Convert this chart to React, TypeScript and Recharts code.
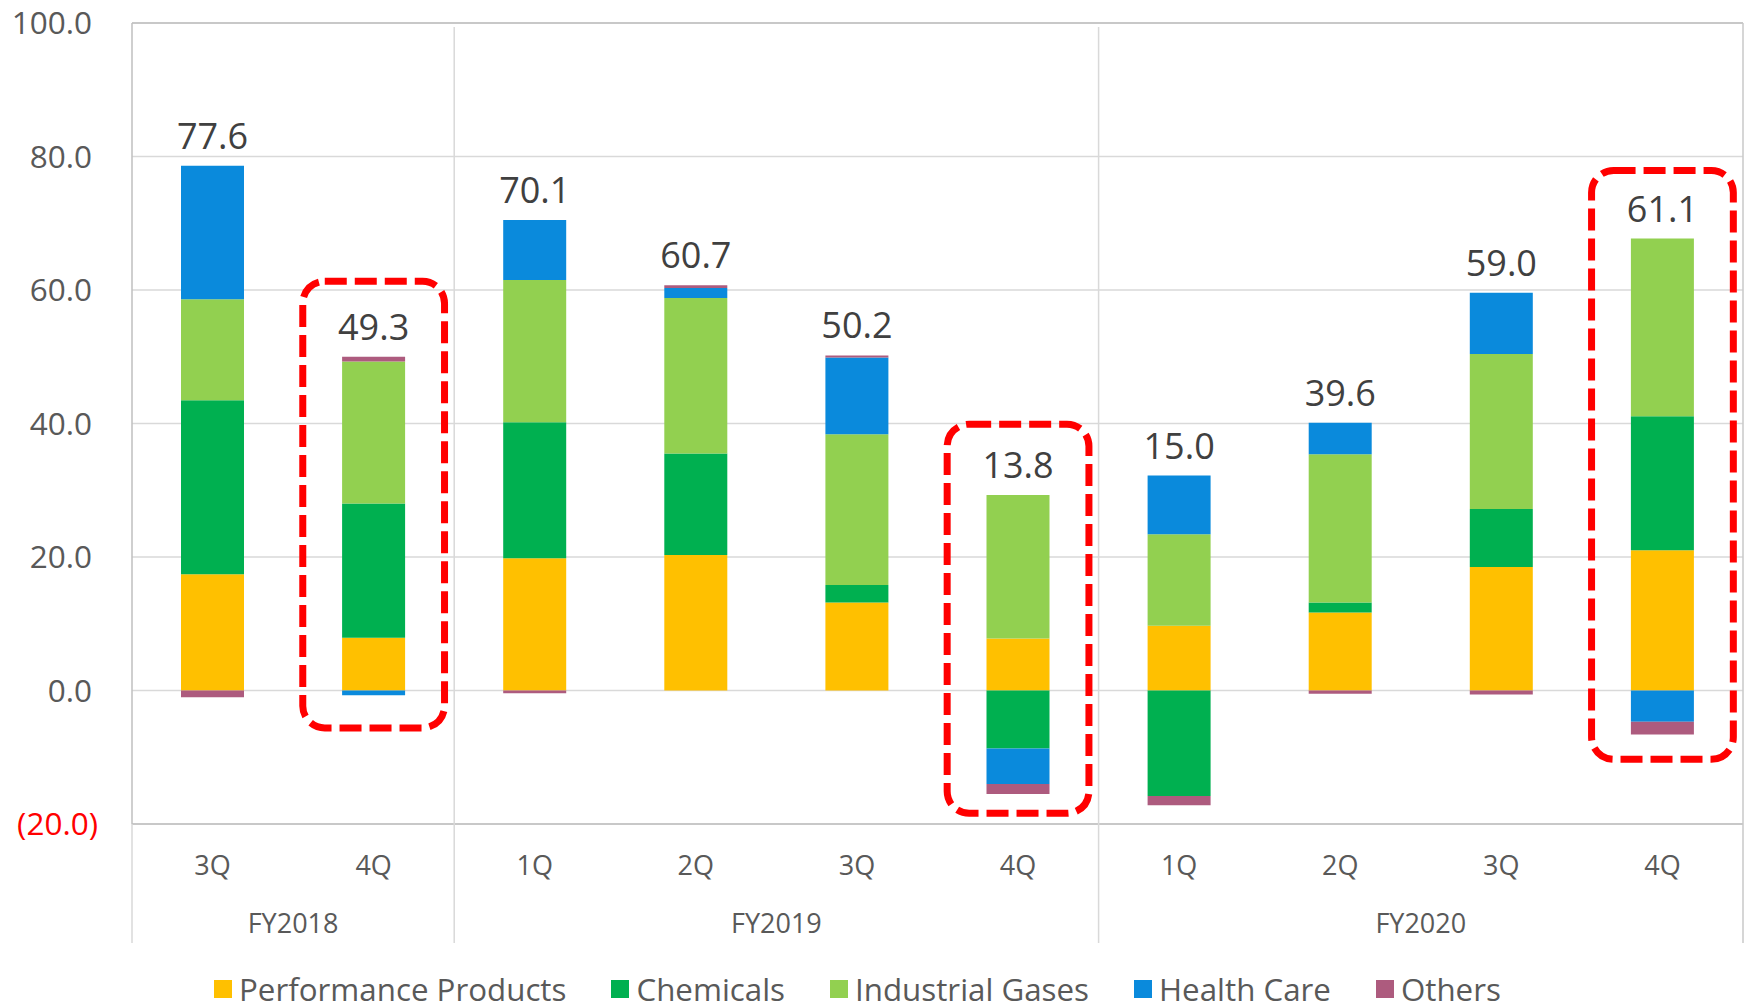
import React from 'react';
import {
  ComposedChart,
  Bar,
  Line,
  XAxis,
  YAxis,
  CartesianGrid,
  ReferenceLine,
  ReferenceArea,
  LabelList,
  Legend,
} from 'recharts';

// ---------- data ----------
const quarters = ['3Q', '4Q', '1Q', '2Q', '3Q', '4Q', '1Q', '2Q', '3Q', '4Q'];
const fiscalYearOfBar = [
  'FY2018', 'FY2018',
  'FY2019', 'FY2019', 'FY2019', 'FY2019',
  'FY2020', 'FY2020', 'FY2020', 'FY2020',
];
const performanceProducts = [17.4, 7.9, 19.8, 20.3, 13.2, 7.8, 9.7, 11.7, 18.5, 21.0];
const chemicals = [26.1, 20.1, 20.4, 15.2, 2.6, -8.7, -15.8, 1.5, 8.7, 20.1];
const industrialGases = [15.1, 21.3, 21.3, 23.3, 22.6, 21.5, 13.7, 22.2, 23.2, 26.6];
const healthCare = [20.0, -0.7, 9.0, 1.5, 11.5, -5.3, 8.8, 4.7, 9.2, -4.7];
const others = [-1.0, 0.7, -0.4, 0.4, 0.3, -1.5, -1.4, -0.5, -0.6, -1.9];
const totalLabels = [77.6, 49.3, 70.1, 60.7, 50.2, 13.8, 15.0, 39.6, 59.0, 61.1];

const yTicks = [-20, 0, 20, 40, 60, 80, 100];

// highlighted (dashed red box) bars and their vertical extent in axis units
const highlightIndex = [1, 5, 9];
const highlightTop = [61.3, 39.9, 77.9];
const highlightBottom = [-5.6, -18.4, -10.3];

const seriesNames = ['Performance Products', 'Chemicals', 'Industrial Gases', 'Health Care', 'Others'];
const seriesKeys = ['pp', 'chem', 'ig', 'hc', 'oth'];
const seriesColors = ['#FFC000', '#00B050', '#92D050', '#0A8ADC', '#AD5B7E'];

const ids = quarters.map((q, i) => `${fiscalYearOfBar[i]} ${q}`);
const data = quarters.map((q, i) => {
  const vals = [performanceProducts[i], chemicals[i], industrialGases[i], healthCare[i], others[i]];
  return {
    id: ids[i],
    pp: performanceProducts[i],
    chem: chemicals[i],
    ig: industrialGases[i],
    hc: healthCare[i],
    oth: others[i],
    total: totalLabels[i],
    positiveTop: vals.filter((v) => v > 0).reduce((a, b) => a + b, 0),
  };
});

// ---------- layout ----------
const CHART_W = 1748;
const CHART_H = 1007;
const MARGIN = { top: 23, right: 5, bottom: 0, left: 0 };
const Y_AXIS_W = 132;
const LEGEND_H = 36;
const X_AXIS_H = 147;
const PLOT_TOP = MARGIN.top;
const PLOT_BOTTOM = CHART_H - MARGIN.bottom - LEGEND_H - X_AXIS_H;
const PLOT_LEFT = MARGIN.left + Y_AXIS_W;
const PLOT_RIGHT = CHART_W - MARGIN.right;
const BAND = (PLOT_RIGHT - PLOT_LEFT) / quarters.length;
const SEP_BOTTOM = PLOT_BOTTOM + 119;
const FONT = '"Open Sans", "Noto Sans", sans-serif';
const AXIS_TEXT = '#595959';

const YTick = (props: any) => {
  const { x, y, payload } = props;
  const v = payload.value as number;
  const neg = v < 0;
  const label = neg ? `(${Math.abs(v).toFixed(1)})` : v.toFixed(1);
  return (
    <text
      x={neg ? x - 34 : x - 40}
      y={y}
      dy="0.36em"
      textAnchor="end"
      fontFamily={FONT}
      fontSize={31.5}
      fill={neg ? '#FF0000' : AXIS_TEXT}
    >
      {label}
    </text>
  );
};

const XTick = (props: any) => {
  const { x, index } = props;
  const fy = fiscalYearOfBar[index];
  const isGroupStart = index === 0 || fiscalYearOfBar[index - 1] !== fy;
  const groupSize = fiscalYearOfBar.filter((f) => f === fy).length;
  const isLast = index === quarters.length - 1;
  const left = x - BAND / 2;
  const right = x + BAND / 2;
  return (
    <g>
      <text
        x={x}
        y={PLOT_BOTTOM + 41}
        dy="0.36em"
        textAnchor="middle"
        fontFamily={FONT}
        fontSize={27}
        fill={AXIS_TEXT}
      >
        {quarters[index]}
      </text>
      {isGroupStart && (
        <>
          <line
            x1={left}
            x2={left}
            y1={index === 0 ? PLOT_BOTTOM : PLOT_TOP + 4}
            y2={SEP_BOTTOM}
            stroke="#D9D9D9"
            strokeWidth={1.5}
          />
          <text
            x={x + ((groupSize - 1) * BAND) / 2}
            y={PLOT_BOTTOM + 99}
            dy="0.36em"
            textAnchor="middle"
            fontFamily={FONT}
            fontSize={27}
            fill={AXIS_TEXT}
          >
            {fy}
          </text>
        </>
      )}
      {isLast && (
        <line x1={right} x2={right} y1={PLOT_TOP} y2={SEP_BOTTOM} stroke="#C8C8C8" strokeWidth={1.5} />
      )}
    </g>
  );
};

const TotalLabel = (props: any) => {
  const { x, y, value } = props;
  return (
    <text
      x={x}
      y={y - 30}
      dy="0.36em"
      textAnchor="middle"
      fontFamily={FONT}
      fontSize={36}
      fill="#404040"
    >
      {Number(value).toFixed(1)}
    </text>
  );
};

const BOX_W = BAND * 0.88;
const HighlightBox = (props: any) => {
  const { x, y, width, height } = props;
  const cx = x + (width || 0) / 2;
  return (
    <rect
      x={cx - BOX_W / 2}
      y={y}
      width={BOX_W}
      height={height}
      rx={22}
      ry={22}
      fill="none"
      stroke="#FF0000"
      strokeWidth={7}
      strokeDasharray="22 8"
    />
  );
};

const LegendContent = () => (
  <div
    style={{
      height: LEGEND_H,
      display: 'flex',
      alignItems: 'center',
      paddingLeft: 214,
      fontFamily: FONT,
      fontSize: 31.3,
      color: AXIS_TEXT,
      whiteSpace: 'nowrap',
    }}
  >
    {seriesNames.map((n, i) => (
      <div key={n} style={{ display: 'flex', alignItems: 'center', marginRight: 45 }}>
        <span
          style={{
            display: 'inline-block',
            width: 18,
            height: 18,
            background: seriesColors[i],
            marginRight: 7,
          }}
        />
        <span style={{ lineHeight: `${LEGEND_H}px` }}>{n}</span>
      </div>
    ))}
  </div>
);

export default function App() {
  return (
    <div style={{ position: 'absolute', left: 0, top: 0, width: CHART_W, height: CHART_H, background: '#fff' }}>
      <ComposedChart width={CHART_W} height={CHART_H} data={data} margin={MARGIN} stackOffset="sign" barCategoryGap={0}>
        <CartesianGrid horizontal vertical={false} stroke="#D9D9D9" strokeWidth={1.5} />
        <XAxis
          dataKey="id"
          type="category"
          height={X_AXIS_H}
          interval={0}
          tickLine={false}
          axisLine={{ stroke: '#BFBFBF', strokeWidth: 1.5 }}
          tick={<XTick />}
          padding={{ left: 0, right: 0 }}
        />
        <YAxis
          type="number"
          domain={[-20, 100]}
          ticks={yTicks}
          width={Y_AXIS_W}
          tickSize={0}
          tickMargin={0}
          tickLine={false}
          axisLine={{ stroke: '#BFBFBF', strokeWidth: 1.5 }}
          tick={<YTick />}
          allowDataOverflow
        />
        <ReferenceLine y={100} stroke="#BFBFBF" strokeWidth={1.5} />
        {seriesKeys.map((k, i) => (
          <Bar
            key={k}
            dataKey={k}
            name={seriesNames[i]}
            stackId="a"
            fill={seriesColors[i]}
            barSize={63}
            isAnimationActive={false}
          />
        ))}
        <Line
          dataKey="positiveTop"
          stroke="none"
          dot={false}
          activeDot={false}
          legendType="none"
          isAnimationActive={false}
        >
          <LabelList dataKey="total" content={<TotalLabel />} />
        </Line>
        {highlightIndex.map((idx, i) => (
          <ReferenceArea
            key={idx}
            x1={ids[idx]}
            x2={ids[idx]}
            y1={highlightBottom[i]}
            y2={highlightTop[i]}
            ifOverflow="visible"
            shape={<HighlightBox />}
          />
        ))}
        <Legend
          verticalAlign="bottom"
          align="left"
          wrapperStyle={{ left: 0, width: CHART_W, height: LEGEND_H, bottom: 0 }}
          content={<LegendContent />}
        />
      </ComposedChart>
    </div>
  );
}
